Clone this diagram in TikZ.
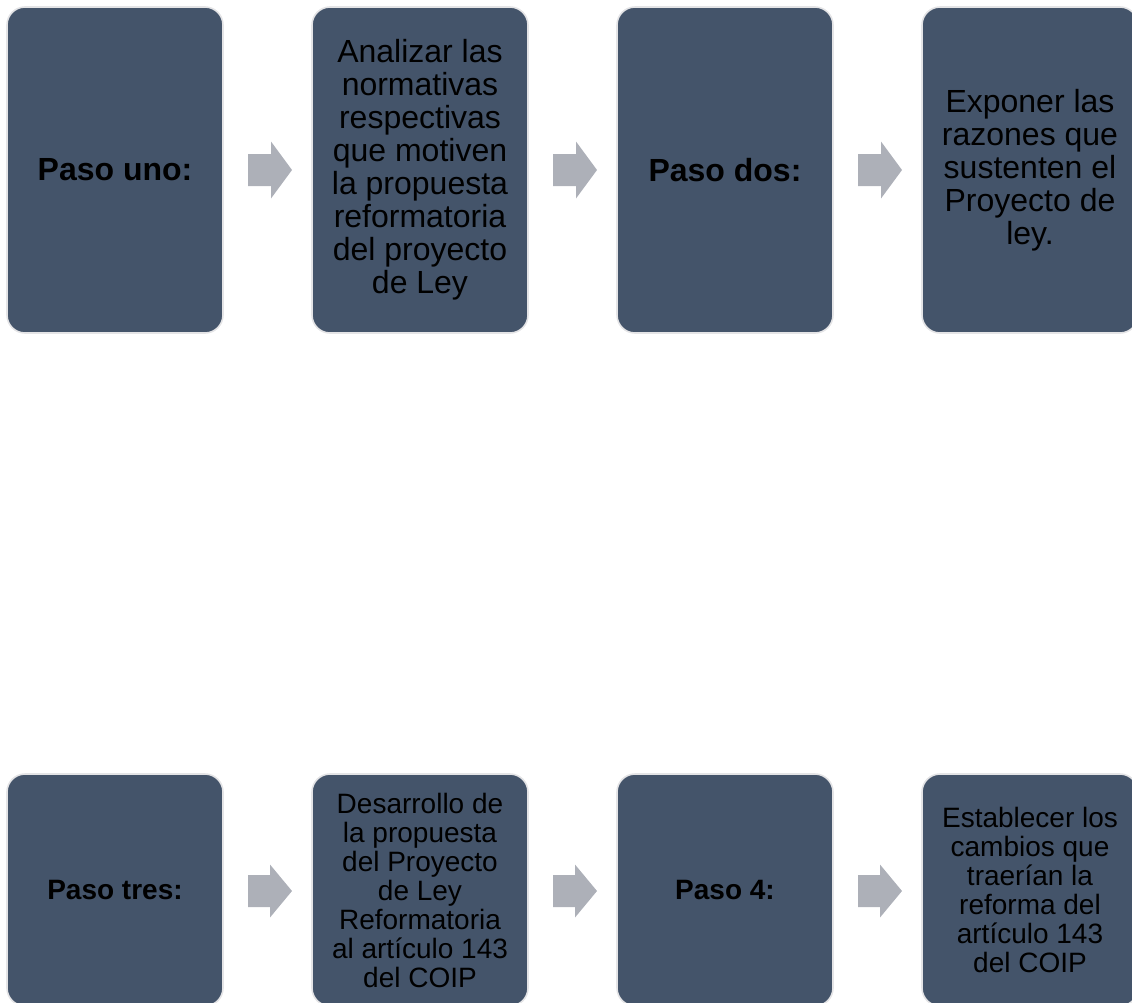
\documentclass[tikz,border=0pt]{standalone}
\usepackage{fontspec}
\setmainfont{Liberation Sans}
\definecolor{boxfill}{HTML}{44546A}
\definecolor{boxline}{HTML}{E4E4E6}
\definecolor{arrfill}{HTML}{ADB0B8}
\begin{document}
\begin{tikzpicture}[x=1pt,y=-1pt,
  card/.style={rounded corners=18pt, fill=boxfill, draw=boxline, line width=1.6pt,
    minimum width=216pt, inner sep=0pt, align=center, text=black},
  tall/.style={card, minimum height=326pt, font=\fontsize{32}{33}\selectfont},
  short/.style={card, minimum height=232pt, font=\fontsize{28}{29}\selectfont},
  blockarrow/.style={fill=arrfill, draw=none}]
\useasboundingbox (0,0) rectangle (1132,1002);
\clip (0,0) rectangle (1132,1002);
% top row
\node[tall] (t1) at (115,170) {\textbf{Paso uno:}};
\node[tall] (t2) at (420,170) {Analizar las\\normativas\\respectivas\\que motiven\\la propuesta\\reformatoria\\del proyecto\\de Ley};
\node[tall] (t3) at (725,170) {\textbf{Paso dos:}};
\node[tall] (t4) at (1030,170) {Exponer las\\razones que\\sustenten el\\Proyecto de\\ley.};
% bottom row
\node[short] (b1) at (115,890) {\textbf{Paso tres:}};
\node[short] (b2) at (420,890) {Desarrollo de\\la propuesta\\del Proyecto\\de Ley\\Reformatoria\\al artículo 143\\del COIP};
\node[short] (b3) at (725,890) {\textbf{Paso 4:}};
\node[short] (b4) at (1030,890) {Establecer los\\cambios que\\traerían la\\reforma del\\artículo 143\\del COIP};
% arrows top
\foreach \n/\x in {ta1/248, ta2/553, ta3/858} {
  \coordinate (\n) at (\x,170);
  \fill[blockarrow] (\n) ++(0,-16) -- ++(23,0) -- ++(0,-12.5) -- ++(21,28.5) -- ++(-21,28.5) -- ++(0,-12.5) -- ++(-23,0) -- cycle;
}
% arrows bottom
\foreach \n/\x in {ba1/248, ba2/553, ba3/858} {
  \coordinate (\n) at (\x,891);
  \fill[blockarrow] (\n) ++(0,-16) -- ++(22,0) -- ++(0,-10.5) -- ++(22,26.5) -- ++(-22,26.5) -- ++(0,-10.5) -- ++(-22,0) -- cycle;
}
\end{tikzpicture}
\end{document}
